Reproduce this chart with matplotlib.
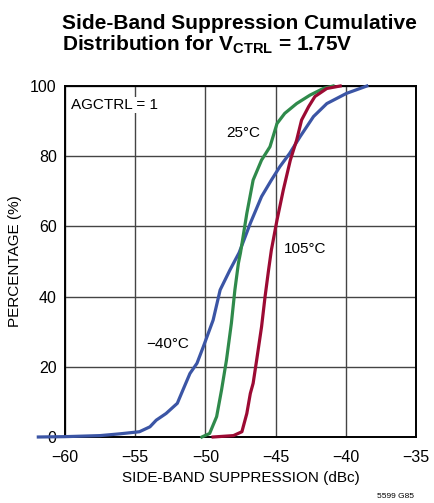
"""
Side-band suppression cumulative distribution at V_CTRL = 1.75V for three
temperatures.
"""
import matplotlib
matplotlib.use("Agg")
import matplotlib.pyplot as plt


# curve points (dBc, percent)
COLD_X = [-61.9, -60.0, -57.5, -56.1, -54.7, -53.95, -53.5, -52.8, -52.0, -51.6,
          -51.1, -50.6, -50.15, -49.45, -48.95, -48.25, -47.6, -46.8, -46.0,
          -45.3, -44.7, -44.0, -43.25, -42.3, -41.35, -39.95, -38.5]
COLD_Y = [0.0, 0.1, 0.4, 0.9, 1.5, 2.9, 4.8, 6.7, 9.6, 13.4,
          18.1, 21.0, 25.7, 33.3, 41.9, 47.6, 52.5, 60.9, 68.5,
          73.2, 77.0, 80.8, 85.6, 91.3, 95.0, 97.9, 100.0]

ROOM_X = [-50.25, -49.7, -49.2, -48.85, -48.5, -48.15, -47.9, -47.65, -47.5,
          -47.05, -46.6, -46.0, -45.4, -44.9, -44.35, -43.5, -42.55, -41.6, -40.9]
ROOM_Y = [0.0, 1.0, 5.8, 13.4, 21.9, 32.4, 41.9, 49.5, 52.5,
          63.7, 73.2, 78.9, 82.7, 89.3, 92.2, 95.0, 97.4, 99.3, 100.0]

HOT_X = [-49.45, -48.0, -47.4, -47.05, -46.8, -46.6, -46.35, -46.0, -45.75,
         -45.5, -45.3, -44.9, -44.45, -43.95, -43.5, -43.15, -42.65, -42.2,
         -41.35, -40.4]
HOT_Y = [0.0, 0.4, 1.5, 6.7, 12.4, 15.3, 21.9, 31.4, 40.0,
         47.6, 53.3, 61.8, 70.4, 78.9, 84.6, 90.3, 94.1, 97.0,
         99.3, 100.0]

X_TICKS = [-60, -55, -50, -45, -40, -35]
X_LABELS = ["\u221260", "\u221255", "\u221250", "\u221245", "\u221240", "\u221235"]
Y_TICKS = [0, 20, 40, 60, 80, 100]

COLORS = {"cold": "#3b55a5", "room": "#2f8a4b", "hot": "#9c0a33"}
FONT = "Liberation Sans"


def main():
    plt.rcParams["font.family"] = [FONT, "DejaVu Sans"]
    plt.rcParams["mathtext.fontset"] = "custom"
    plt.rcParams["mathtext.rm"] = FONT
    plt.rcParams["mathtext.bf"] = FONT + ":bold"

    fig = plt.figure(figsize=(4.34, 5.03), dpi=100)
    ax = fig.add_axes([65 / 434, 66 / 503, 351 / 434, 351 / 503])

    ax.plot(COLD_X, COLD_Y, color=COLORS["cold"], lw=2.3, clip_on=False, zorder=3)
    ax.plot(ROOM_X, ROOM_Y, color=COLORS["room"], lw=2.3, clip_on=False, zorder=3)
    ax.plot(HOT_X, HOT_Y, color=COLORS["hot"], lw=2.3, clip_on=False, zorder=3)

    ax.set_xlim(-60, -35)
    ax.set_ylim(0, 100)
    ax.set_xticks(X_TICKS)
    ax.set_xticklabels(X_LABELS)
    ax.set_yticks(Y_TICKS)
    ax.tick_params(length=0, labelsize=11.5)
    ax.tick_params(axis="x", pad=9)
    ax.tick_params(axis="y", pad=6)
    ax.grid(color="#444444", lw=1.0)
    for spine in ax.spines.values():
        spine.set_linewidth(1.4)

    ax.set_xlabel("SIDE-BAND SUPPRESSION (dBc)", fontsize=11, labelpad=5)
    ax.set_ylabel("PERCENTAGE (%)", fontsize=11, labelpad=6)

    ax.text(-59.57, 94.6, "AGCTRL = 1", fontsize=11, va="center",
            bbox=dict(fc="white", ec="none", pad=1))
    ax.text(-48.48, 86.6, "25\u00b0C", fontsize=11, va="center")
    ax.text(-44.4, 53.6, "105\u00b0C", fontsize=11, va="center")
    ax.text(-54.23, 26.4, "\u221240\u00b0C", fontsize=11, va="center")

    fig.text(62 / 434, 1 - 29 / 503, "Side-Band Suppression Cumulative",
             fontsize=15, fontweight="bold", va="baseline")
    fig.text(62 / 434, 1 - 50 / 503, r"Distribution for V$_\mathbf{CTRL}$ = 1.75V",
             fontsize=15, fontweight="bold", va="baseline")
    fig.text(414 / 434, 1 - 497 / 503, "5599 G85", fontsize=6, ha="right",
             va="center")

    fig.savefig("out.png", dpi=100)


if __name__ == "__main__":
    main()
